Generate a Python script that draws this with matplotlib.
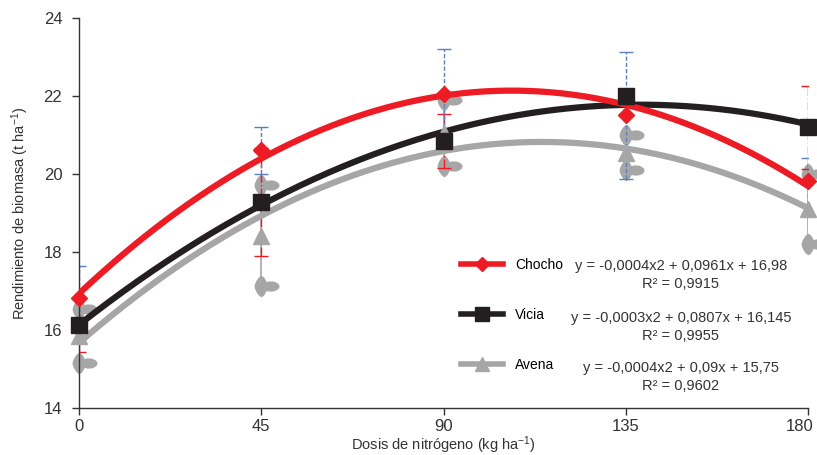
import numpy as np
import matplotlib
matplotlib.use("Agg")
import matplotlib.pyplot as plt
import matplotlib.transforms as mtransforms
from matplotlib.path import Path
from matplotlib.lines import Line2D

plt.rcParams['font.family'] = ['Liberation Sans', 'DejaVu Sans']
plt.rcParams['mathtext.fontset'] = 'custom'
plt.rcParams['mathtext.rm'] = 'Liberation Sans'
plt.rcParams['mathtext.it'] = 'Liberation Sans'

# data
dosis = [0, 45, 90, 135, 180]
chocho = [16.82, 20.61, 22.05, 21.51, 19.82]
chocho_err = [0.82, 0.60, 1.15, 1.63, 0.60]
vicia = [16.13, 19.29, 20.85, 22.00, 21.20]
vicia_err = [0.70, 1.39, 0.70, 0.15, 1.06]
avena = [15.85, 18.42, 21.05, 20.55, 19.10]
avena_err = [0.69, 1.30, 0.85, 0.45, 0.90]

eq_chocho = "y = -0,0004x2 + 0,0961x + 16,98\nR² = 0,9915"
eq_vicia = "y = -0,0003x2 + 0,0807x + 16,145\nR² = 0,9955"
eq_avena = "y = -0,0004x2 + 0,09x + 15,75\nR² = 0,9602"

red = '#ed1c24'
black = '#231f20'
gray = '#a6a6a6'
blue = '#5b7fc0'

# blob shaped marker used for the avena error bar ends
upper = [(0, 1.0), (0.22, 0.82), (0.38, 0.55), (0.48, 0.36), (0.8, 0.44),
         (1.2, 0.42), (1.5, 0.3), (1.68, 0.14), (1.72, 0)]
lower = [(px, -py) for px, py in upper[::-1][1:]]
back = [(-0.25, -0.8), (-0.45, -0.5), (-0.58, -0.2), (-0.62, 0),
        (-0.58, 0.2), (-0.45, 0.5), (-0.25, 0.8), (0, 1.0)]
blob_pts = upper + lower + back
blob = Path(blob_pts, [Path.MOVETO] + [Path.LINETO] * (len(blob_pts) - 2) + [Path.CLOSEPOLY])

fig = plt.figure(figsize=(8.17, 4.55), dpi=100)
ax = fig.add_axes([0.0967, 0.1033, 0.8923, 0.857])

x = np.array(dosis)
xs = np.linspace(0, 180, 200)

# error bars
ax.errorbar(x, avena, yerr=avena_err, fmt='none', ecolor=gray, elinewidth=1.2,
            capsize=0, zorder=2)
for sign in (1, -1):
    ax.plot(x, np.array(avena) + sign * np.array(avena_err), ls='none', marker=blob,
            ms=25, color=gray, zorder=2, clip_on=False)
eb = ax.errorbar(x, vicia, yerr=vicia_err, fmt='none', ecolor=red, elinewidth=1,
                 capsize=5, capthick=1, zorder=2)
eb[2][0].set_linestyle('-.')
eb = ax.errorbar(x, chocho, yerr=chocho_err, fmt='none', ecolor=blue, elinewidth=1,
                 capsize=5, capthick=1, zorder=2)
eb[2][0].set_linestyle((0, (3, 1.5)))

# trend lines (2nd order fit) and points
series = [(avena, gray, '^', 11), (vicia, black, 's', 12), (chocho, red, 'D', 8)]
for vals, col, mk, ms in series:
    c = np.polyfit(x, vals, 2)
    ax.plot(xs, np.polyval(c, xs), color=col, lw=4.5, zorder=3, solid_capstyle='butt')
    ax.plot(x, vals, ls='none', marker=mk, ms=ms, color=col, zorder=4, clip_on=False)

ax.set_xlim(0, 180)
ax.set_ylim(14, 24)
ax.set_xticks(dosis)
ax.set_yticks([14, 16, 18, 20, 22, 24])
for s in ['top', 'right']:
    ax.spines[s].set_visible(False)
for s in ['left', 'bottom']:
    ax.spines[s].set_color('#333333')
    ax.spines[s].set_linewidth(1)
ax.tick_params(axis='y', length=5, width=1, pad=7, labelsize=12, colors='#333333')
ax.tick_params(axis='x', length=5, width=1, pad=3, labelsize=12, colors='#333333')

# keep the last x tick label inside the figure
last = ax.get_xticklabels()[-1]
last.set_transform(last.get_transform() +
                   mtransforms.ScaledTranslation(-6 / 72, 0, fig.dpi_scale_trans))

ax.set_xlabel('Dosis de nitrógeno (kg ha$^{-1}$)', fontsize=10.5, color='#333333', labelpad=0)
ax.set_ylabel('Rendimiento de biomasa (t ha$^{-1}$)', fontsize=10.5, color='#333333', labelpad=9)

# legend
handles = [Line2D([], [], color=red, lw=4, marker='D', ms=7),
           Line2D([], [], color=black, lw=4, marker='s', ms=10),
           Line2D([], [], color=gray, lw=4, marker='^', ms=10)]
ax.legend(handles, ['Chocho', 'Vicia', 'Avena'], loc='upper left',
          bbox_to_anchor=(461 / 817, 1 - 258 / 455), bbox_transform=fig.transFigure,
          frameon=False, fontsize=10, handlelength=3.0, labelspacing=2.6,
          handletextpad=0.9, borderpad=0, borderaxespad=0)

for txt, yp in [(eq_chocho, 275), (eq_vicia, 327), (eq_avena, 377)]:
    fig.text(681 / 817, 1 - yp / 455, txt, ha='center', va='center', fontsize=10.5,
             color='#333333', linespacing=1.4)

fig.savefig('out.png', dpi=100)
